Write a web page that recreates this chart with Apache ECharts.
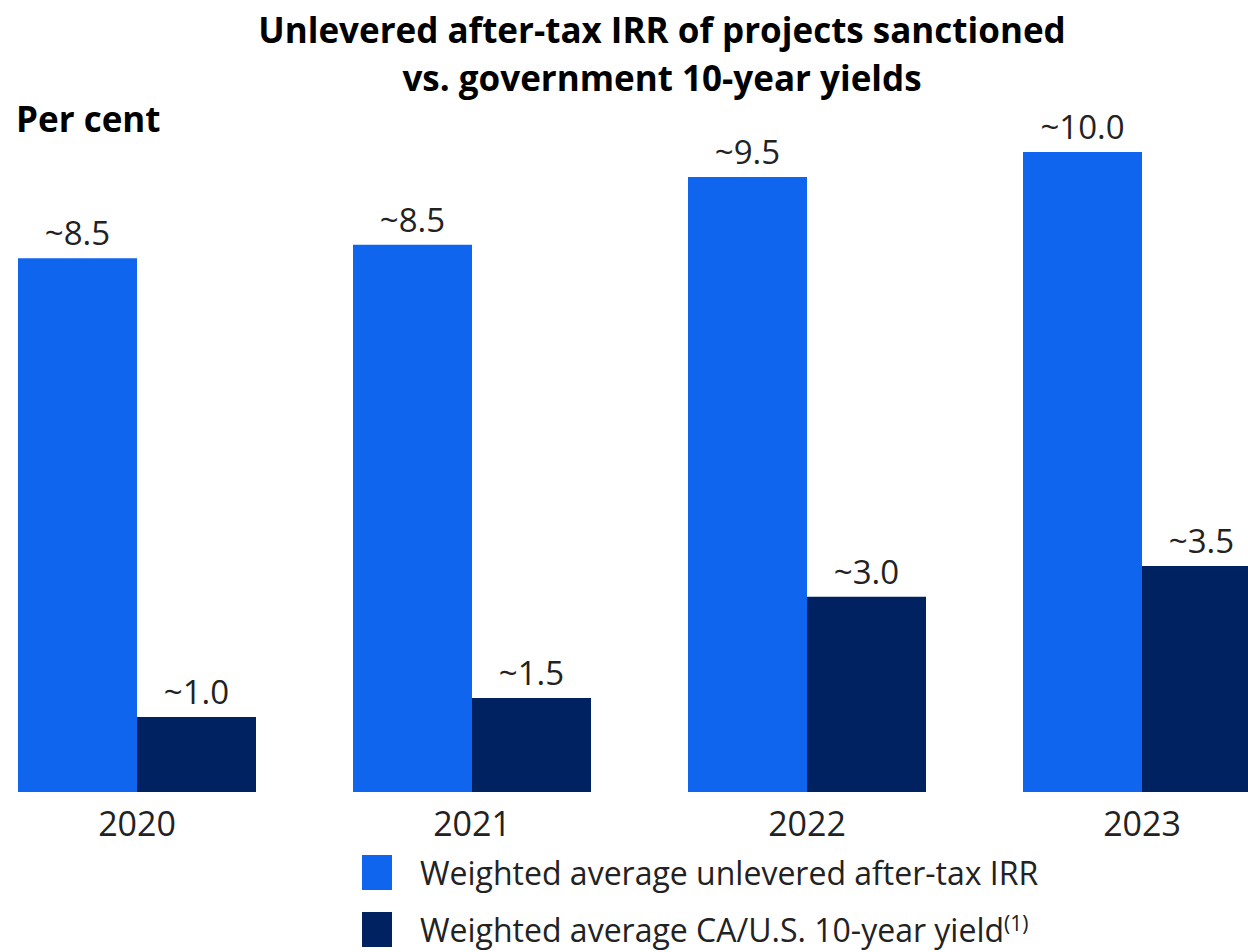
<!DOCTYPE html>
<html>
<head>
<meta charset="utf-8">
<script src="https://cdn.jsdelivr.net/npm/echarts@6/dist/echarts.min.js"></script>
<style>
  html, body { margin: 0; padding: 0; background: #fff; }
  #chart { width: 1248px; height: 952px; }
</style>
</head>
<body>
<div id="chart"></div>
<script>
var years = ['2020', '2021', '2022', '2023'];
var irrValues = [8.34, 8.55, 9.61, 10.0];
var irrLabels = ['~8.5', '~8.5', '~9.5', '~10.0'];
var yieldValues = [1.17, 1.47, 3.05, 3.53];
var yieldLabels = ['~1.0', '~1.5', '~3.0', '~3.5'];
var irrName = 'Weighted average unlevered after-tax IRR';
var yieldName = 'Weighted average CA/U.S. 10-year yield';

var font = 'Open Sans';

var chart = echarts.init(document.getElementById('chart'), null, { renderer: 'svg' });

chart.setOption({
    animation: false,
    title: [
        {
            text: 'Unlevered after-tax IRR of projects sanctioned\nvs. government 10-year yields',
            left: 657,
            textAlign: 'center',
            top: 0,
            textStyle: { fontFamily: font, fontWeight: 'bold', fontSize: 35, lineHeight: 48, color: '#000' }
        },
        {
            text: 'Per cent',
            left: 11,
            top: 96,
            textStyle: { fontFamily: font, fontWeight: 'bold', fontSize: 35, color: '#000' }
        }
    ],
    legend: {
        orient: 'vertical',
        left: 362,
        top: 855,
        height: 120,
        padding: 0,
        itemWidth: 30,
        itemHeight: 35,
        itemGap: 22,
        icon: 'rect',
        data: [irrName, yieldName],
        formatter: function (name) {
            // footnote mark on the yield entry
            return name === yieldName ? name + '{sup|(1)}' : name;
        },
        textStyle: {
            fontFamily: font,
            fontSize: 32,
            lineHeight: 34,
            color: '#222',
            padding: [0, 0, 0, 23],
            rich: {
                sup: { fontFamily: font, fontSize: 21, color: '#222', verticalAlign: 'top', padding: [0, 0, 18, 0] }
            }
        }
    },
    grid: {
        left: 137,
        width: 1005,
        top: 152,
        bottom: 160,
        containLabel: false
    },
    xAxis: {
        type: 'category',
        data: years,
        boundaryGap: false,
        axisLine: { show: false },
        axisTick: { show: false },
        axisLabel: { fontFamily: font, fontSize: 34, color: '#222', margin: 14 }
    },
    yAxis: {
        type: 'value',
        min: 0,
        max: 10,
        show: false,
        splitLine: { show: false }
    },
    series: [
        {
            name: irrName,
            type: 'bar',
            data: irrValues,
            barWidth: 119,
            barGap: '0%',
            clip: false,
            itemStyle: { color: '#0F65EE' },
            label: {
                show: true,
                position: 'top',
                distance: 9,
                fontFamily: font,
                fontSize: 33,
                color: '#222',
                formatter: function (p) { return irrLabels[p.dataIndex]; }
            }
        },
        {
            name: yieldName,
            type: 'bar',
            data: yieldValues,
            barWidth: 119,
            clip: false,
            itemStyle: { color: '#002261' },
            label: {
                show: true,
                position: 'top',
                distance: 9,
                fontFamily: font,
                fontSize: 33,
                color: '#222',
                formatter: function (p) { return yieldLabels[p.dataIndex]; }
            }
        }
    ]
});
</script>
</body>
</html>
